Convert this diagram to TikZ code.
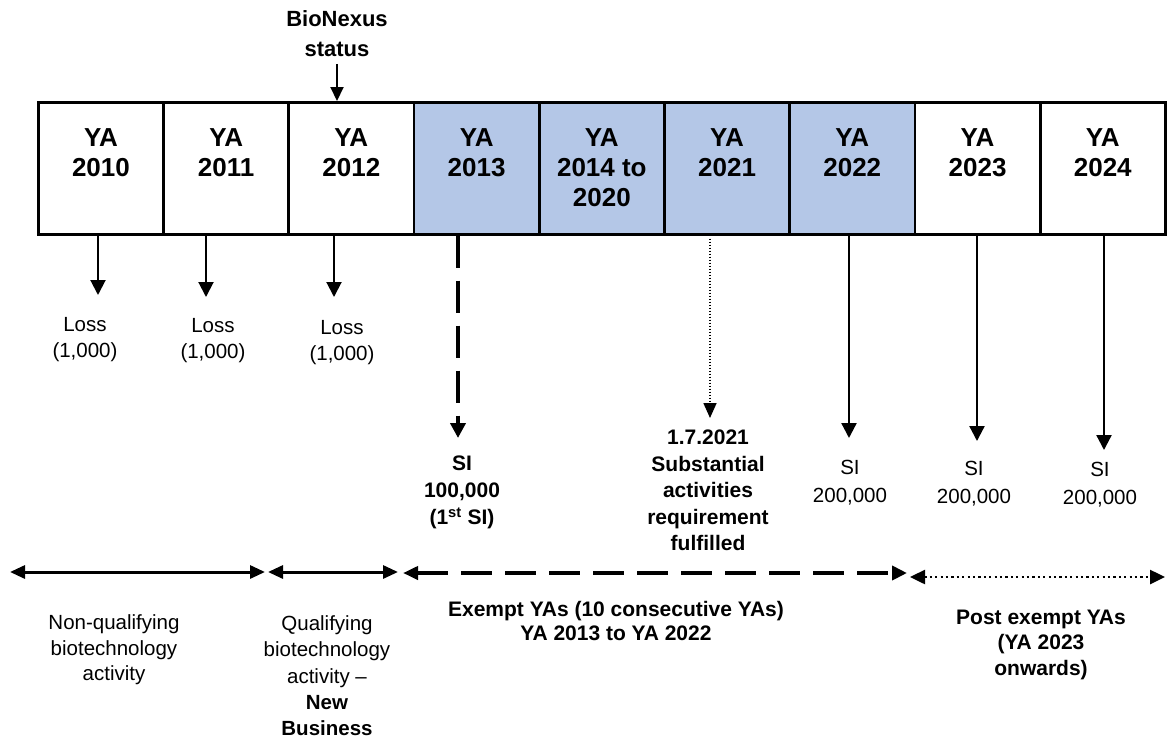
\documentclass[tikz,border=0pt]{standalone}
\usepackage{fontspec}
\setmainfont{Liberation Sans}
\usetikzlibrary{arrows.meta}
\definecolor{exblue}{RGB}{180,199,231}
\begin{document}
\begin{tikzpicture}[x=1pt,y=-1pt,
  yabox/.style={draw,line width=2.7pt,minimum width=125.2pt,minimum height=132pt,inner sep=0pt,anchor=north west},
  exbox/.style={yabox,fill=exblue},
  yatext/.style={anchor=north,inner sep=0pt,align=center,font=\fontsize{26}{30}\selectfont\bfseries},
  note/.style={anchor=north,inner sep=0pt,align=center,font=\fontsize{20.5}{26}\selectfont},
  bnote/.style={anchor=north,inner sep=0pt,align=center,font=\fontsize{21}{26.5}\selectfont\bfseries},
  thinarrow/.style={line width=2pt,-{Triangle[length=15pt,width=15pt]}},
  siarrow/.style={line width=2.3pt,-{Triangle[length=15pt,width=15pt]}},
  dasharrow/.style={line width=4pt,dash pattern=on 32pt off 13pt,-{Triangle[length=15pt,width=15pt]}},
  dotarrow/.style={line width=1.6pt,dash pattern=on 1.5pt off 1.5pt,-{Triangle[length=15pt,width=13pt]}},
  span/.style={line width=3pt,{Triangle[length=15pt,width=13pt]}-{Triangle[length=15pt,width=13pt]}},
  dashspan/.style={line width=4pt,dash pattern=on 31pt off 13pt,{Triangle[length=15pt,width=13pt]}-{Triangle[length=15pt,width=14pt]}},
  dotspan/.style={line width=2.5pt,dash pattern=on 2.2pt off 3.2pt,{Triangle[length=15pt,width=14pt]}-{Triangle[length=15pt,width=14pt]}}
]
\useasboundingbox (0,0) rectangle (1168,740);

% year boxes
\node[yabox] (b1) at (37,101) {};
\node[yabox] (b2) at (162.2,101) {};
\node[yabox] (b3) at (287.4,101) {};
\node[exbox] (b4) at (412.7,101) {};
\node[exbox] (b5) at (537.9,101) {};
\node[exbox] (b6) at (663.1,101) {};
\node[exbox] (b7) at (788.3,101) {};
\node[yabox] (b8) at (913.6,101) {};
\node[yabox] (b9) at (1038.8,101) {};

\node[yatext] (y1) at ([shift={(0,27.7)}]b1.north) {YA\\2010};
\node[yatext] (y2) at ([shift={(0,27.7)}]b2.north) {YA\\2011};
\node[yatext] (y3) at ([shift={(0,27.7)}]b3.north) {YA\\2012};
\node[yatext] (y4) at ([shift={(0,27.7)}]b4.north) {YA\\2013};
\node[yatext] (y5) at ([shift={(0,27.7)}]b5.north) {YA\\2014 to\\2020};
\node[yatext] (y6) at ([shift={(0,27.7)}]b6.north) {YA\\2021};
\node[yatext] (y7) at ([shift={(0,27.7)}]b7.north) {YA\\2022};
\node[yatext] (y8) at ([shift={(0,27.7)}]b8.north) {YA\\2023};
\node[yatext] (y9) at ([shift={(0,27.7)}]b9.north) {YA\\2024};

% BioNexus status
\node[anchor=north,inner sep=0pt,align=center,font=\fontsize{22}{30}\selectfont\bfseries] (bio) at (337,10.2) {BioNexus\\status};
\draw[line width=2pt,-{Triangle[length=14pt,width=13pt]}] ([yshift=-7pt]bio.south) -- (bio.south |- b3.north);

% losses
\coordinate (l1) at (98,295);
\coordinate (l2) at (206,297);
\coordinate (l3) at (334,297);
\draw[thinarrow] (l1 |- b1.south) -- (l1);
\draw[thinarrow] (l2 |- b2.south) -- (l2);
\draw[thinarrow] (l3 |- b3.south) -- (l3);
\node[note] (loss1) at (85,316.7) {Loss\\(1,000)};
\node[note] (loss2) at (213,317.7) {Loss\\(1,000)};
\node[note] (loss3) at (342,319.7) {Loss\\(1,000)};

% first SI
\coordinate (s1) at (458,438);
\draw[dasharrow] (s1 |- b4.south) -- (s1);
\node[bnote,font=\fontsize{21}{27}\selectfont\bfseries] (si1) at (462,455.7) {SI\\100,000\\(1\textsuperscript{st} SI)};

% substantial activities
\coordinate (s2) at (710,418);
\draw[dotarrow] ([yshift=-3pt]s2 |- b6.south) -- (s2);
\node[bnote] (sub) at (708,429.7) {1.7.2021\\Substantial\\activities\\requirement\\fulfilled};

% later SI
\coordinate (s3) at (849,438);
\coordinate (s4) at (977,441);
\coordinate (s5) at (1104,450);
\draw[siarrow] (s3 |- b7.south) -- (s3);
\draw[siarrow] (s4 |- b8.south) -- (s4);
\draw[siarrow] (s5 |- b9.south) -- (s5);
\node[note,font=\fontsize{20.5}{28}\selectfont] (si2) at (850,459.7) {SI\\200,000};
\node[note,font=\fontsize{20.5}{28}\selectfont] (si3) at (974,461) {SI\\200,000};
\node[note,font=\fontsize{20.5}{28}\selectfont] (si4) at (1100,462) {SI\\200,000};

% period spans
\coordinate (p1a) at (10,572);
\coordinate (p1b) at (265,572);
\coordinate (p2a) at (268,572);
\coordinate (p2b) at (398,572);
\coordinate (p3a) at (403,573);
\coordinate (p3b) at (907,573);
\coordinate (p4a) at (910,577);
\coordinate (p4b) at (1165,577);
\draw[span] (p1a) -- (p1b);
\draw[span] (p2a) -- (p2b);
\draw[dashspan] (p3a) -- (p3b);
\draw[dotspan] (p4a) -- (p4b);

\node[note,font=\fontsize{20.5}{25.5}\selectfont] (nq) at (114,614.7) {Non-qualifying\\biotechnology\\activity};
\node[note,font=\fontsize{20.5}{26.2}\selectfont] (q) at (327,615.7) {Qualifying\\biotechnology\\activity –\\\textbf{New}\\\textbf{Business}};
\node[bnote,font=\fontsize{21}{24}\selectfont\bfseries] (ex) at (616,600.7) {Exempt YAs (10 consecutive YAs)\\YA 2013 to YA 2022};
\node[bnote,font=\fontsize{21}{25.5}\selectfont\bfseries] (post) at (1041,609.7) {Post exempt YAs\\(YA 2023\\onwards)};
\end{tikzpicture}
\end{document}
